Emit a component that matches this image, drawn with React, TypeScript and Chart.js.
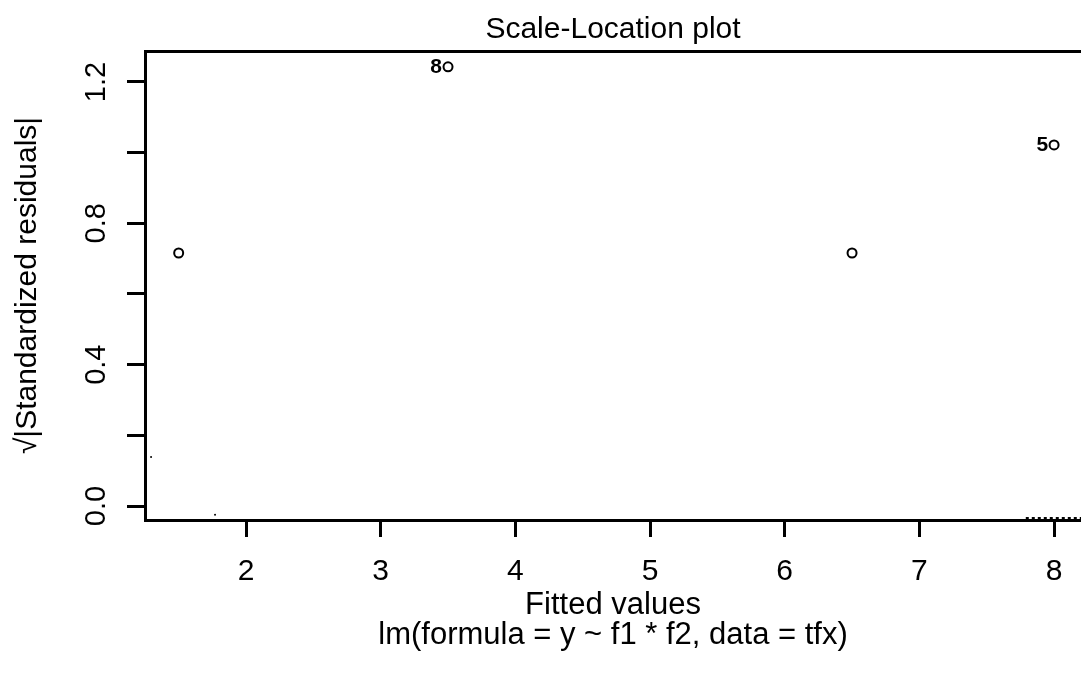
import React, { useEffect, useRef } from 'react';
import { Chart, registerables } from 'chart.js';

Chart.register(...registerables);

// ---- data ----
const fittedValues = [1.5, 3.5, 6.5, 8.0];
const sqrtStdResiduals = [0.716, 1.243, 0.716, 1.022];
const pointLabels = ['', '8', '', '5'];

const smoothX = [7.79, 8.2];
const smoothY = [-0.034, -0.034];

const strayX = [1.295, 1.77];
const strayY = [0.139, -0.025];

const xTicks = [2, 3, 4, 5, 6, 7, 8];
const yTicks = [0, 0.2, 0.4, 0.6, 0.8, 1.0, 1.2];
const yLabelled = ['0.0', '0.4', '0.8', '1.2'];

const xRange = [1.25, 8.2];
const yRange = [-0.0396, 1.2877];

const titleText = 'Scale-Location plot';
const xTitle = 'Fitted values';
const subTitle = 'lm(formula = y ~ f1 * f2, data = tfx)';
const yTitle = '√|Standardized residuals|';

const FONT = '"Liberation Sans", Arial, Helvetica, sans-serif';

const zeroPad = (s: any) => {
  s.paddingLeft = 0;
  s.paddingRight = 0;
  s.paddingTop = 0;
  s.paddingBottom = 0;
};

const pointLabelPlugin = {
  id: 'pointLabels',
  afterDatasetsDraw(chart: any) {
    const meta = chart.getDatasetMeta(0);
    const ctx = chart.ctx;
    ctx.save();
    ctx.fillStyle = '#000';
    ctx.font = `bold 21px ${FONT}`;
    ctx.textAlign = 'right';
    ctx.textBaseline = 'middle';
    meta.data.forEach((el: any, i: number) => {
      const lab = pointLabels[i];
      if (lab) ctx.fillText(lab, el.x - 6, el.y);
    });
    ctx.restore();
  },
};

export default function App() {
  const ref = useRef<HTMLCanvasElement | null>(null);

  useEffect(() => {
    if (!ref.current) return;
    const chart = new Chart(ref.current, {
      type: 'scatter',
      data: {
        datasets: [
          {
            data: fittedValues.map((x, i) => ({ x, y: sqrtStdResiduals[i] })),
            pointRadius: 4.5,
            pointBorderWidth: 2,
            borderColor: '#000',
            backgroundColor: 'rgba(0,0,0,0)',
            pointBackgroundColor: 'rgba(0,0,0,0)',
            pointBorderColor: '#000',
            showLine: false,
            clip: false,
          },
          {
            data: smoothX.map((x, i) => ({ x, y: smoothY[i] })),
            showLine: true,
            borderColor: '#000',
            borderWidth: 2,
            borderDash: [3, 3],
            pointRadius: 0,
            clip: false,
          },
          {
            data: strayX.map((x, i) => ({ x, y: strayY[i] })),
            pointRadius: 1,
            pointBorderWidth: 0,
            pointBackgroundColor: '#000',
            backgroundColor: '#000',
            borderColor: '#000',
            showLine: false,
          },
        ],
      },
      options: {
        responsive: false,
        animation: false,
        events: [],
        layout: { padding: 0, autoPadding: false },
        plugins: {
          legend: { display: false },
          tooltip: { enabled: false },
          title: { display: false },
        },
        scales: {
          x: {
            type: 'linear',
            position: 'bottom',
            min: xRange[0],
            max: xRange[1],
            afterBuildTicks: (s: any) => {
              s.ticks = xTicks.map((v) => ({ value: v }));
            },
            afterFit: (s: any) => {
              s.height = 165;
              zeroPad(s);
            },
            grid: {
              display: true,
              drawOnChartArea: false,
              drawTicks: true,
              tickLength: 17,
              tickWidth: 3,
              tickColor: '#000',
              color: '#000',
            },
            border: { display: true, color: '#000', width: 3 },
            ticks: {
              color: '#000',
              font: { family: FONT, size: 30 },
              padding: 17,
              maxRotation: 0,
              autoSkip: false,
              callback: (v: any) => String(v),
            },
            title: {
              display: true,
              text: [xTitle, subTitle],
              color: '#000',
              font: { family: FONT, size: 31, lineHeight: '30px' },
              padding: { top: 0, bottom: 35 },
            },
          },
          xTop: {
            type: 'linear',
            position: 'top',
            min: xRange[0],
            max: xRange[1],
            afterFit: (s: any) => {
              s.height = 51;
              zeroPad(s);
            },
            grid: { display: false, drawTicks: false },
            border: { display: true, color: '#000', width: 3 },
            ticks: { display: false },
            title: {
              display: true,
              text: titleText,
              color: '#000',
              font: { family: FONT, size: 30, lineHeight: '30px' },
              padding: { top: 15, bottom: 0 },
            },
          },
          y: {
            type: 'linear',
            position: 'left',
            min: yRange[0],
            max: yRange[1],
            afterBuildTicks: (s: any) => {
              s.ticks = yTicks.map((v) => ({ value: v }));
            },
            afterFit: (s: any) => {
              s.width = 145;
              zeroPad(s);
            },
            grid: {
              display: true,
              drawOnChartArea: false,
              drawTicks: true,
              tickLength: 18,
              tickWidth: 3,
              tickColor: '#000',
              color: '#000',
            },
            border: { display: true, color: '#000', width: 3 },
            ticks: {
              color: '#000',
              font: { family: FONT, size: 29 },
              padding: 10,
              minRotation: 90,
              maxRotation: 90,
              crossAlign: 'center',
              autoSkip: false,
              callback: (v: any) => {
                const s = Number(v).toFixed(1);
                return yLabelled.includes(s) ? s : '';
              },
            },
            title: {
              display: true,
              text: yTitle,
              color: '#000',
              font: { family: FONT, size: 30, lineHeight: '30px' },
              padding: { top: 13, bottom: 0 },
            },
          },
        },
      } as any,
      plugins: [pointLabelPlugin],
    });
    return () => chart.destroy();
  }, []);

  return (
    <div style={{ position: 'absolute', left: 0, top: 0, width: 1081, height: 685, background: '#fff' }}>
      <canvas ref={ref} width={1081} height={685} style={{ display: 'block' }} />
    </div>
  );
}
